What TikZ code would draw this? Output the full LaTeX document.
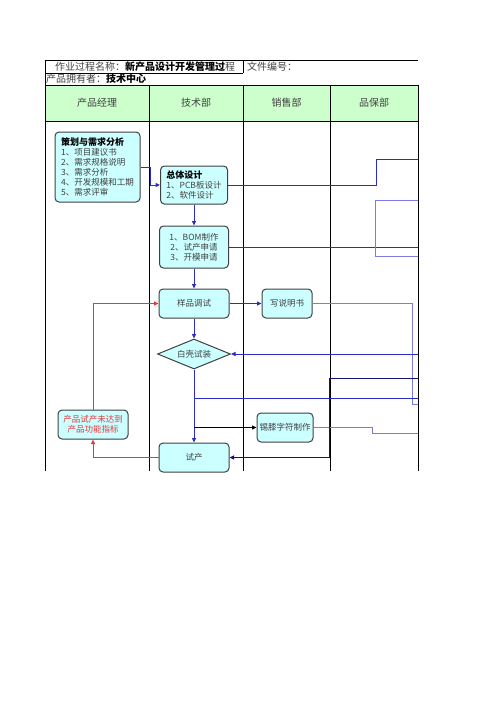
\documentclass[tikz,border=0pt]{standalone}
\usepackage{fontspec}
\setmainfont{Noto Sans CJK SC}
\usetikzlibrary{arrows.meta,shapes.geometric}
\definecolor{boxfill}{HTML}{CCFFFF}
\definecolor{headfill}{HTML}{CCFFCC}
\definecolor{flowblue}{HTML}{2B2BC8}
\definecolor{flownavy}{HTML}{141478}
\definecolor{flowlight}{HTML}{7C7CE0}
\definecolor{failred}{HTML}{E8383D}
\definecolor{textgray}{HTML}{404040}
\tikzset{
  proc/.style={draw=black!75, fill=boxfill, rounded corners=4pt, line width=1pt,
    text=textgray, font=\fontsize{8.5}{10}\selectfont, inner sep=1pt},
  flow/.style={flowblue, line width=1pt},
  arr/.style={-{Triangle[length=4.5pt,width=4pt]}},
  grid/.style={black, line width=0.8pt},
}
\begin{document}
\begin{tikzpicture}[x=1pt,y=-1pt]
  \useasboundingbox (0,0) rectangle (496,702);

  % table frame
  \fill[headfill] (45,85) rectangle (418,121);
  \draw[grid] (45,60) -- (418,60);
  \draw[grid] (45,60) -- (45,471);
  \draw[grid] (45,73) -- (243,73) (243,60) -- (243,73);
  \draw[grid] (45,85) -- (418,85) (45,121) -- (418,121);
  \foreach \x in {149,243,330,418} {
    \draw[grid] (\x,85) -- (\x,471);
  }

  \node[anchor=west, text=textgray, font=\fontsize{10}{12}\selectfont, inner sep=0pt] (title) at (55,66.5)
    {作业过程名称：{\color{black}\bfseries 新产品设计开发管理过}程};
  \node[anchor=west, text=textgray, font=\fontsize{10}{12}\selectfont, inner sep=0pt] (docno) at (247,66.5) {文件编号：};
  \node[anchor=west, text=textgray, font=\fontsize{10}{12}\selectfont, inner sep=0pt] (owner) at (46,79)
    {产品拥有者：{\color{black}\bfseries 技术中心}};

  \foreach \x/\name [count=\i] in {97/产品经理, 196/技术部, 286.5/销售部, 374/品保部} {
    \node[text=textgray, font=\fontsize{10}{12}\selectfont] (head\i) at (\x,103) {\name};
  }

  % process boxes
  \node[proc, minimum width=85pt, minimum height=70pt, align=left] (plan) at (97.5,167)
    {{\color{black}\bfseries\fontsize{9}{10}\selectfont 策划与需求分析}\\1、项目建议书\\2、需求规格说明\\3、需求分析\\4、开发规模和工期\\5、需求评审};
  \node[proc, minimum width=67pt, minimum height=38pt, align=left] (design) at (194,185)
    {{\color{black}\bfseries\fontsize{9}{10}\selectfont 总体设计}\\1、PCB板设计\\2、软件设计};
  \node[proc, minimum width=69pt, minimum height=42pt, align=center] (bom) at (194,247)
    {1、BOM制作\\2、试产申请\\3、开模申请};
  \node[proc, minimum width=70pt, minimum height=29pt] (test) at (194,303.5) {样品调试};
  \node[proc, minimum width=50pt, minimum height=29pt] (manual) at (287,303.5) {写说明书};
  \node[proc, diamond, sharp corners, aspect=2.5, inner sep=0pt, minimum width=73pt, minimum height=30pt] (shell) at (194,354) {白壳试装};
  \node[proc, minimum width=56pt, minimum height=29pt] (tin) at (285,427.5) {锡膝字符制作};
  \node[proc, minimum width=70pt, minimum height=29pt, align=center, text=failred] (fail) at (93,424.5)
    {产品试产未达到\\产品功能指标};
  \node[proc, minimum width=70pt, minimum height=29pt] (trial) at (194,457.5) {试产};

  % links to the right edge
  \coordinate (e1) at (418,159);
  \coordinate (e2) at (418,200);
  \coordinate (e3) at (418,256);
  \coordinate (e4) at (418,404);
  \coordinate (e5) at (418,354);
  \coordinate (e6) at (418,398);
  \coordinate (e7) at (418,433);
  \coordinate (e8) at (418,378);
  \coordinate (split1) at (194,398);
  \coordinate (split2) at (194,427.5);

  \draw[flow, arr] (plan.east) -- ++(10,0) |- (design.west);
  \draw[flow] (design.east) -- ++(148,0) |- (e1);
  \draw[flow, arr] (design.south) -- (bom.north);
  \draw[flow] (bom.east) -- (bom.east -| e1);
  \draw[flowlight, line width=1pt] (e2) -- ++(-43,0) |- (e3);
  \draw[flow, arr] (bom.south) -- (test.north);
  \draw[flow, arr] (test.east) -- (manual.west);
  \draw[flowlight, line width=1pt] (manual.east) -- ++(100,0) |- (e4);
  \draw[flow, arr] (test.south) -- (shell.north);
  \draw[flow, arr] (e5) -- (shell.east);
  \draw[flow, arr] (shell.south) -- (trial.north);
  \draw[flow] (split1) -- (e6);
  \draw[black, line width=0.8pt, arr] (split2) -- (tin.west);
  \draw[flowlight, line width=1pt] (tin.east) -- ++(59,0) |- (e7);
  \draw[flownavy, line width=1pt, arr] (e8) -- ++(-89,0) |- (trial.east);
  \draw[failred, line width=1pt, arr] (trial.west) -| (fail.south);
  \draw[failred, line width=1pt, arr] (fail.north) |- (test.west);
\end{tikzpicture}
\end{document}
